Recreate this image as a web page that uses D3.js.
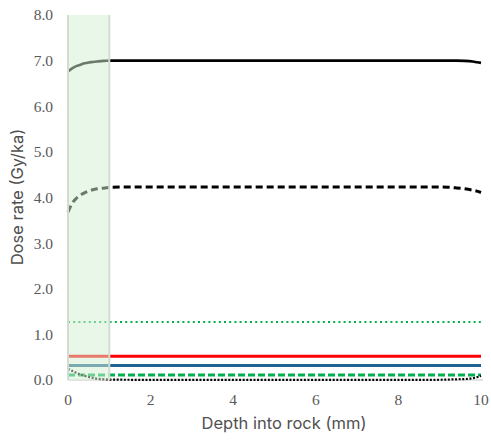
<!DOCTYPE html>
<html><head><meta charset="utf-8">
<script src="https://cdn.jsdelivr.net/npm/d3@7"></script>
<style>body{margin:0;background:#fff}svg{display:block}</style>
</head><body>
<svg id="chart" width="491" height="440"></svg>
<script>
const depth = [0, 0.1, 0.2, 0.3, 0.4, 0.5, 0.6, 0.7, 0.8, 0.9, 1.0, 1.5, 2, 3, 4, 5, 6, 7, 8, 9, 9.2, 9.4, 9.6, 9.8, 9.9, 10];
const totalDose   = [6.76, 6.83, 6.88, 6.91, 6.94, 6.96, 6.97, 6.98, 6.99, 6.995, 7.0, 7.0, 7.0, 7.0, 7.0, 7.0, 7.0, 7.0, 7.0, 7.0, 7.0, 7.0, 6.995, 6.98, 6.965, 6.95];
const betaDose    = [3.68, 3.87, 3.98, 4.05, 4.10, 4.14, 4.17, 4.19, 4.20, 4.21, 4.22, 4.23, 4.23, 4.23, 4.23, 4.23, 4.23, 4.23, 4.23, 4.23, 4.225, 4.21, 4.19, 4.16, 4.14, 4.11];
const greenDotted = [1.27, 1.27, 1.27, 1.27, 1.27, 1.27, 1.27, 1.27, 1.27, 1.27, 1.27, 1.27, 1.27, 1.27, 1.27, 1.27, 1.27, 1.27, 1.27, 1.27, 1.27, 1.27, 1.27, 1.27, 1.27, 1.27];
const redSolid    = [0.52, 0.52, 0.52, 0.52, 0.52, 0.52, 0.52, 0.52, 0.52, 0.52, 0.52, 0.52, 0.52, 0.52, 0.52, 0.52, 0.52, 0.52, 0.52, 0.52, 0.52, 0.52, 0.52, 0.52, 0.52, 0.52];
const blueSolid   = [0.32, 0.32, 0.32, 0.32, 0.32, 0.32, 0.32, 0.32, 0.32, 0.32, 0.32, 0.32, 0.32, 0.32, 0.32, 0.32, 0.32, 0.32, 0.32, 0.32, 0.32, 0.32, 0.32, 0.32, 0.32, 0.32];
const greenDashed = [0.11, 0.11, 0.11, 0.11, 0.11, 0.11, 0.11, 0.11, 0.11, 0.11, 0.11, 0.11, 0.11, 0.11, 0.11, 0.11, 0.11, 0.11, 0.11, 0.11, 0.11, 0.11, 0.11, 0.11, 0.11, 0.11];
const blackDotted = [0.24, 0.20, 0.16, 0.12, 0.09, 0.065, 0.045, 0.03, 0.02, 0.015, 0.01, 0.005, 0.003, 0.003, 0.003, 0.003, 0.003, 0.003, 0.003, 0.005, 0.01, 0.015, 0.02, 0.04, 0.06, 0.09];
const xTicks = [0, 2, 4, 6, 8, 10];
const yTicks = [0, 1, 2, 3, 4, 5, 6, 7, 8];
const bandRange = [0, 1];

const series = [
  {values: totalDose,   color: "#000000", dash: null,    width: 2.6},
  {values: betaDose,    color: "#000000", dash: "7 4",   width: 3},
  {values: greenDotted, color: "#00b050", dash: "2 3.2", width: 2},
  {values: redSolid,    color: "#ff0000", dash: null,    width: 3},
  {values: blueSolid,   color: "#1f6391", dash: null,    width: 3},
  {values: greenDashed, color: "#00b050", dash: "7 3",   width: 3},
  {values: blackDotted, color: "#000000", dash: "2 1.6", width: 2.2}
];

const svg = d3.select("#chart");
const x = d3.scaleLinear().domain([0, 10]).range([68, 481]);
const y = d3.scaleLinear().domain([0, 8]).range([380, 15]);
const serif = "'Liberation Serif', 'Times New Roman', serif";
const sans = "Inter, 'Open Sans', sans-serif";

svg.append("line").attr("x1", x(0)).attr("x2", x(10) + 2).attr("y1", y(0)).attr("y2", y(0))
  .attr("stroke", "#d9d9d9").attr("stroke-width", 1.5);

const line = d3.line().x((d, i) => x(depth[i])).y(d => y(d)).curve(d3.curveMonotoneX);
series.forEach(s => {
  svg.append("path").attr("d", line(s.values)).attr("fill", "none")
    .attr("stroke", s.color).attr("stroke-width", s.width)
    .attr("stroke-dasharray", s.dash);
});

svg.append("rect").attr("x", x(bandRange[0])).attr("y", y(8))
  .attr("width", x(bandRange[1]) - x(bandRange[0])).attr("height", y(0) - y(8))
  .attr("fill", "rgb(210,239,210)").attr("fill-opacity", 0.51);
bandRange.forEach(v => {
  svg.append("line").attr("x1", x(v)).attr("x2", x(v)).attr("y1", y(8)).attr("y2", y(0))
    .attr("stroke", "#d3dccf").attr("stroke-width", 2);
});

svg.append("g").selectAll("text").data(yTicks).join("text")
  .attr("x", 53).attr("y", d => y(d)).attr("dy", "0.35em").attr("text-anchor", "end")
  .style("font-family", serif).attr("font-size", 15.5)
  .attr("fill", "#595959").text(d => d.toFixed(1));

svg.append("g").selectAll("text").data(xTicks).join("text")
  .attr("x", d => x(d)).attr("y", 400).attr("dy", "0.35em").attr("text-anchor", "middle")
  .style("font-family", serif).attr("font-size", 15.5)
  .attr("fill", "#595959").text(d => d);

svg.append("text").attr("x", 284).attr("y", 423).attr("dy", "0.35em").attr("text-anchor", "middle")
  .style("font-family", sans).attr("font-size", 16.5).attr("fill", "#505050")
  .text("Depth into rock (mm)");
svg.append("text").attr("transform", "translate(17,197) rotate(-90)").attr("dy", "0.35em")
  .attr("text-anchor", "middle")
  .style("font-family", sans).attr("font-size", 16.5).attr("fill", "#505050")
  .text("Dose rate (Gy/ka)");
</script>
</body></html>
